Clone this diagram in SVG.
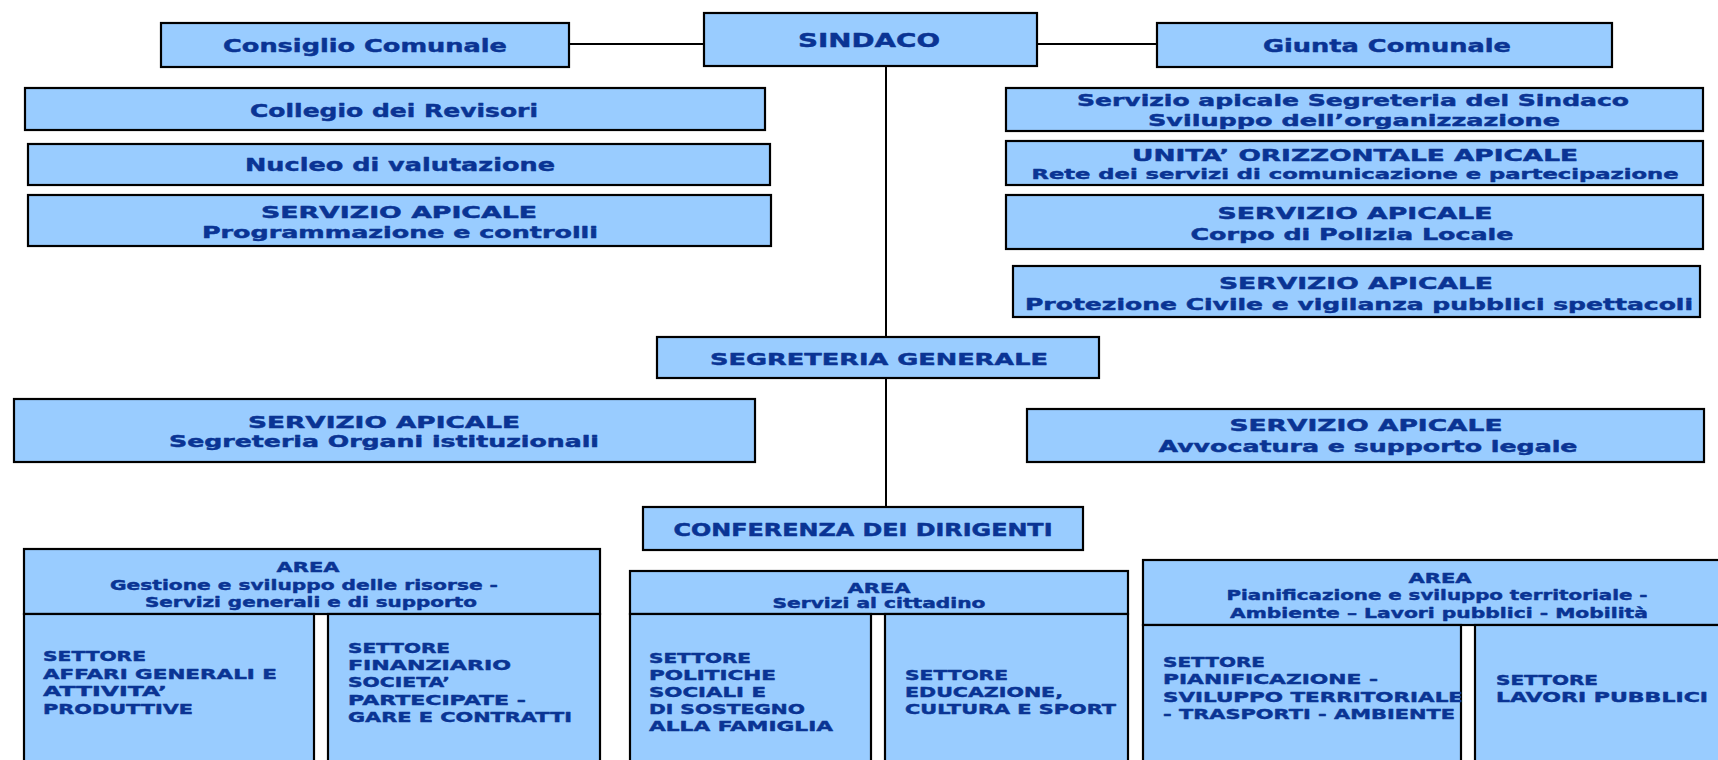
<svg xmlns="http://www.w3.org/2000/svg" width="1718" height="760" viewBox="0 0 1718 760">
<style>
.b{fill:#99CCFF;stroke:#000;stroke-width:2.2}
.c{stroke:#000;stroke-width:2;fill:none}
text{font-family:"DejaVu Sans","Verdana",sans-serif;font-weight:bold;fill:#0a3494;stroke:#0a3494;stroke-width:0.45;stroke-linejoin:round}
.m{text-anchor:middle}
.f18{font-size:18.5px}
.f16{font-size:16px}
.f15{font-size:14.5px}
</style>
<rect width="1718" height="760" fill="#fff"/>
<g id="connectors">
<line class="c" x1="569" y1="44" x2="704" y2="44"/>
<line class="c" x1="1037" y1="44" x2="1157" y2="44"/>
<line class="c" x1="886" y1="66" x2="886" y2="337"/>
<line class="c" x1="886" y1="378" x2="886" y2="507"/>
</g>
<g id="sindaco"><rect class="b" x="704" y="13" width="333" height="53"/><text class="m" x="869" y="47" style="font-size:19.5px" textLength="142" lengthAdjust="spacingAndGlyphs">SINDACO</text></g>
<g id="consiglio"><rect class="b" x="161" y="23" width="408" height="44"/><text class="m f18" x="365" y="52" textLength="284" lengthAdjust="spacingAndGlyphs">Consiglio Comunale</text></g>
<g id="giunta"><rect class="b" x="1157" y="23" width="455" height="44"/><text class="m f18" x="1387" y="52" textLength="248" lengthAdjust="spacingAndGlyphs">Giunta Comunale</text></g>
<g id="collegio"><rect class="b" x="25" y="88" width="740" height="42"/><text class="m f18" x="394" y="117" textLength="288" lengthAdjust="spacingAndGlyphs">Collegio dei Revisori</text></g>
<g id="nucleo"><rect class="b" x="28" y="144" width="742" height="41"/><text class="m f18" x="400" y="170.5" textLength="310" lengthAdjust="spacingAndGlyphs">Nucleo di valutazione</text></g>
<g id="programmazione"><rect class="b" x="28" y="195" width="743" height="51"/><text class="m f16" x="399" y="218" textLength="276" lengthAdjust="spacingAndGlyphs">SERVIZIO APICALE</text><text class="m f16" x="400" y="237.5" textLength="396" lengthAdjust="spacingAndGlyphs">Programmazione e controlli</text></g>
<g id="segreteria-sindaco"><rect class="b" x="1006" y="88" width="697" height="43"/><text class="m f16" x="1353" y="106" textLength="552" lengthAdjust="spacingAndGlyphs">Servizio apicale Segreteria del Sindaco</text><text class="m f16" x="1354" y="125.5" textLength="412" lengthAdjust="spacingAndGlyphs">Sviluppo dell’organizzazione</text></g>
<g id="unita-orizzontale"><rect class="b" x="1006" y="141" width="697" height="44"/><text class="m f16" x="1355" y="160.5" textLength="446" lengthAdjust="spacingAndGlyphs">UNITA’ ORIZZONTALE APICALE</text><text class="m" x="1355" y="179" style="font-size:14.5px" textLength="647" lengthAdjust="spacingAndGlyphs">Rete dei servizi di comunicazione e partecipazione</text></g>
<g id="polizia"><rect class="b" x="1006" y="195" width="697" height="54"/><text class="m f16" x="1355" y="218.5" textLength="275" lengthAdjust="spacingAndGlyphs">SERVIZIO APICALE</text><text class="m f16" x="1352" y="240" textLength="323" lengthAdjust="spacingAndGlyphs">Corpo di Polizia Locale</text></g>
<g id="protezione-civile"><rect class="b" x="1013" y="266" width="687" height="51"/><text class="m f16" x="1356" y="288.5" textLength="274" lengthAdjust="spacingAndGlyphs">SERVIZIO APICALE</text><text class="m f16" x="1359" y="309.5" textLength="668" lengthAdjust="spacingAndGlyphs">Protezione Civile e vigilanza pubblici spettacoli</text></g>
<g id="segreteria-generale"><rect class="b" x="657" y="337" width="442" height="41"/><text class="m f16" x="879" y="365" style="font-size:16.5px" textLength="338" lengthAdjust="spacingAndGlyphs">SEGRETERIA GENERALE</text></g>
<g id="organi-istituzionali"><rect class="b" x="14" y="399" width="741" height="63"/><text class="m f16" x="384" y="428" textLength="272" lengthAdjust="spacingAndGlyphs">SERVIZIO APICALE</text><text class="m f16" x="384" y="447" textLength="430" lengthAdjust="spacingAndGlyphs">Segreteria Organi istituzionali</text></g>
<g id="avvocatura"><rect class="b" x="1027" y="409" width="677" height="53"/><text class="m f16" x="1366" y="431" textLength="273" lengthAdjust="spacingAndGlyphs">SERVIZIO APICALE</text><text class="m f16" x="1368" y="452" textLength="419" lengthAdjust="spacingAndGlyphs">Avvocatura e supporto legale</text></g>
<g id="conferenza"><rect class="b" x="643" y="507" width="440" height="43"/><text class="m" x="863" y="536" style="font-size:17px" textLength="379" lengthAdjust="spacingAndGlyphs">CONFERENZA DEI DIRIGENTI</text></g>
<g id="area-risorse">
<rect class="b" x="24" y="549" width="576" height="65"/>
<text class="m f15" x="308" y="572" textLength="63" lengthAdjust="spacingAndGlyphs">AREA</text>
<text class="m f15" x="304" y="590" textLength="388" lengthAdjust="spacingAndGlyphs">Gestione e sviluppo delle risorse -</text>
<text class="m f15" x="311" y="607" textLength="332" lengthAdjust="spacingAndGlyphs">Servizi generali e di supporto</text>
</g>
<g id="settore-affari-generali"><rect class="b" x="24" y="614" width="290" height="160"/>
<text class="f15" x="43" y="661" textLength="103" lengthAdjust="spacingAndGlyphs">SETTORE</text>
<text class="f15" x="43" y="678.5" textLength="234" lengthAdjust="spacingAndGlyphs">AFFARI GENERALI E</text>
<text class="f15" x="43" y="696" textLength="124" lengthAdjust="spacingAndGlyphs">ATTIVITA’</text>
<text class="f15" x="43" y="713.5" textLength="150" lengthAdjust="spacingAndGlyphs">PRODUTTIVE</text>
</g>
<g id="settore-finanziario"><rect class="b" x="328" y="614" width="272" height="160"/>
<text class="f15" x="348" y="652.5" textLength="102" lengthAdjust="spacingAndGlyphs">SETTORE</text>
<text class="f15" x="348" y="670" textLength="163" lengthAdjust="spacingAndGlyphs">FINANZIARIO</text>
<text class="f15" x="348" y="687" textLength="102" lengthAdjust="spacingAndGlyphs">SOCIETA’</text>
<text class="f15" x="348" y="704.5" textLength="178" lengthAdjust="spacingAndGlyphs">PARTECIPATE -</text>
<text class="f15" x="348" y="722" textLength="224" lengthAdjust="spacingAndGlyphs">GARE E CONTRATTI</text>
</g>
<g id="area-cittadino">
<rect class="b" x="630" y="571" width="498" height="43"/>
<text class="m f15" x="879" y="592.5" textLength="63" lengthAdjust="spacingAndGlyphs">AREA</text>
<text class="m f15" x="879" y="608" textLength="213" lengthAdjust="spacingAndGlyphs">Servizi al cittadino</text>
</g>
<g id="settore-politiche-sociali"><rect class="b" x="630" y="614" width="241" height="160"/>
<text class="f15" x="649" y="662.5" textLength="102" lengthAdjust="spacingAndGlyphs">SETTORE</text>
<text class="f15" x="649" y="679.5" textLength="127" lengthAdjust="spacingAndGlyphs">POLITICHE</text>
<text class="f15" x="649" y="696.5" textLength="117" lengthAdjust="spacingAndGlyphs">SOCIALI E</text>
<text class="f15" x="649" y="713.5" textLength="156" lengthAdjust="spacingAndGlyphs">DI SOSTEGNO</text>
<text class="f15" x="649" y="731" textLength="184" lengthAdjust="spacingAndGlyphs">ALLA FAMIGLIA</text>
</g>
<g id="settore-educazione"><rect class="b" x="885" y="614" width="243" height="160"/>
<text class="f15" x="905" y="680" textLength="103" lengthAdjust="spacingAndGlyphs">SETTORE</text>
<text class="f15" x="905" y="697" textLength="158" lengthAdjust="spacingAndGlyphs">EDUCAZIONE,</text>
<text class="f15" x="905" y="714" textLength="211" lengthAdjust="spacingAndGlyphs">CULTURA E SPORT</text>
</g>
<g id="area-territorio">
<rect class="b" x="1143" y="560" width="600" height="65"/>
<text class="m f15" x="1440" y="582.5" textLength="63" lengthAdjust="spacingAndGlyphs">AREA</text>
<text class="m f15" x="1437" y="600" textLength="421" lengthAdjust="spacingAndGlyphs">Pianificazione e sviluppo territoriale -</text>
<text class="m f15" x="1439" y="617.5" textLength="418" lengthAdjust="spacingAndGlyphs">Ambiente – Lavori pubblici - Mobilità</text>
</g>
<g id="settore-pianificazione"><rect class="b" x="1143" y="625" width="318" height="150"/>
<text class="f15" x="1163" y="667" textLength="102" lengthAdjust="spacingAndGlyphs">SETTORE</text>
<text class="f15" x="1163" y="684" textLength="215" lengthAdjust="spacingAndGlyphs">PIANIFICAZIONE -</text>
<text class="f15" x="1163" y="701.5" textLength="300" lengthAdjust="spacingAndGlyphs">SVILUPPO TERRITORIALE</text>
<text class="f15" x="1163" y="718.5" textLength="292" lengthAdjust="spacingAndGlyphs">- TRASPORTI - AMBIENTE</text>
</g>
<g id="settore-lavori-pubblici"><rect class="b" x="1475" y="625" width="268" height="150"/>
<text class="f15" x="1496" y="684.5" textLength="102" lengthAdjust="spacingAndGlyphs">SETTORE</text>
<text class="f15" x="1496" y="701.5" textLength="212" lengthAdjust="spacingAndGlyphs">LAVORI PUBBLICI</text>
</g>
</svg>
